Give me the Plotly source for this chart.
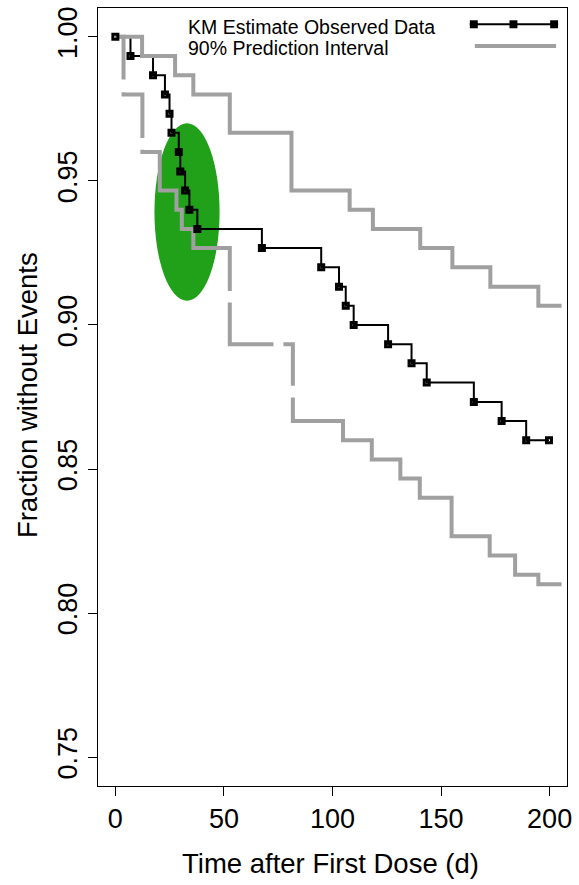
import math
import plotly.graph_objects as go

# ---- Kaplan-Meier estimate of the observed data ----
km_time = [0, 6.96, 17.34, 22.83, 24.94, 25.85, 29.2, 29.9, 32.12, 34.09, 37.75,
           67.48, 94.8, 103.0, 106.1, 109.75, 125.6, 136.4, 143.4, 165.1, 177.9,
           189.2, 199.7]
km_surv = [1.0, 0.9933, 0.9867, 0.98, 0.9733, 0.9667, 0.96, 0.9533, 0.9467, 0.94,
           0.9333, 0.9267, 0.92, 0.9133, 0.9067, 0.90, 0.8933, 0.8867, 0.88, 0.8733,
           0.8667, 0.86, 0.86]

# ---- 90% prediction interval (step functions) ----
upper_time = [0, 12.3, 27.5, 35.9, 52.7, 81.1, 107.9, 118.6, 140.4, 155.2, 172.7, 194.8]
upper_level = [1.0, 0.9933, 0.9867, 0.98, 0.9667, 0.9467, 0.94, 0.9333, 0.9267, 0.92,
               0.9133, 0.9067]
lower_time = [0, 3.76, 12.45, 20.45, 28.14, 30.6, 35.9, 52.7, 81.75, 104.85, 118.1,
              131.25, 140.2, 154.85, 172.4, 184.1, 194.8]
lower_level = [1.0, 0.98, 0.96, 0.9467, 0.94, 0.9333, 0.9267, 0.8933, 0.8667, 0.86,
               0.8533, 0.8467, 0.84, 0.8267, 0.82, 0.8133, 0.81]
band_end = 205.5

# breaks in the interval lines: (t_from, t_to, s_from, s_to)
upper_breaks = []
lower_breaks = [(3.3, 4.2, 0.9808, 0.9852),
                (12.0, 12.9, 0.9608, 0.9649),
                (52.2, 53.2, 0.9078, 0.9118),
                (72.8, 77.4, 0.889, 0.898),
                (81.3, 82.2, 0.8748, 0.8789)]

# ---- observed-data ellipse (centre and half widths) ----
ell_time, ell_surv = 33.0, 0.9392
ell_dt, ell_ds = 15.0, 0.0308

x_ticks = [0, 50, 100, 150, 200]
y_ticks = [0.75, 0.80, 0.85, 0.90, 0.95, 1.00]
y_labels = ["0.75", "0.80", "0.85", "0.90", "0.95", "1.00"]

GREY = "#A0A0A0"
GREEN = "#21A11A"
FONT = "Liberation Sans, Arial, sans-serif"

W, H = 579, 885
L, R, T, B = 98, 8, 7, 99
PW, PH = W - L - R, H - T - B


def px(xp):
    return (xp - L) / PW


def py(yp):
    return (H - B - yp) / PH


def step_path(times, levels, t_end):
    pts = [(times[0], levels[0])]
    for i in range(1, len(times)):
        pts.append((times[i], levels[i - 1]))
        pts.append((times[i], levels[i]))
    pts.append((t_end, levels[-1]))
    return pts


def close(p, q):
    return math.isclose(p[0], q[0], abs_tol=1e-9) and math.isclose(p[1], q[1], abs_tol=1e-9)


def broken_line(path, breaks):
    pieces, cur = [], []
    for (x0, y0), (x1, y1) in zip(path[:-1], path[1:]):
        removed = []
        for (ta, tb, sa, sb) in breaks:
            lo, hi, inside = 0.0, 1.0, True
            for p0, p1, a, b in ((x0, x1, ta, tb), (y0, y1, sa, sb)):
                d = p1 - p0
                if d == 0:
                    if not (a <= p0 <= b):
                        inside = False
                else:
                    s0, s1 = sorted(((a - p0) / d, (b - p0) / d))
                    lo, hi = max(lo, s0), min(hi, s1)
            if inside and lo < hi:
                removed.append((lo, hi))
        removed.sort()
        kept, s = [], 0.0
        for lo, hi in removed:
            if lo > s:
                kept.append((s, lo))
            s = max(s, hi)
        if s < 1.0:
            kept.append((s, 1.0))
        for a, b in kept:
            pa = (x0 + a * (x1 - x0), y0 + a * (y1 - y0))
            pb = (x0 + b * (x1 - x0), y0 + b * (y1 - y0))
            if cur and close(cur[-1], pa):
                cur.append(pb)
            else:
                if cur:
                    pieces.append(cur)
                cur = [pa, pb]
    if cur:
        pieces.append(cur)
    xs, ys = [], []
    for pc in pieces:
        xs += [p[0] for p in pc] + [None]
        ys += [p[1] for p in pc] + [None]
    return xs, ys


fig = go.Figure()

# KM step line
fig.add_trace(go.Scatter(x=km_time, y=km_surv, mode="lines", line_shape="hv",
                         line=dict(color="black", width=2), hoverinfo="skip"))

# prediction interval bounds
for times, levels, brk in ((upper_time, upper_level, upper_breaks),
                           (lower_time, lower_level, lower_breaks)):
    bx, by = broken_line(step_path(times, levels, band_end), brk)
    fig.add_trace(go.Scatter(x=bx, y=by, mode="lines", connectgaps=False,
                             line=dict(color=GREY, width=4), hoverinfo="skip"))

# KM event markers
fig.add_trace(go.Scatter(x=km_time, y=km_surv, mode="markers",
                         marker=dict(symbol="square-open", size=5, color="black",
                                     line=dict(color="black", width=3))))

shapes = [dict(type="circle", xref="x", yref="y", layer="below",
               x0=ell_time - ell_dt, x1=ell_time + ell_dt,
               y0=ell_surv - ell_ds, y1=ell_surv + ell_ds,
               fillcolor=GREEN, line=dict(width=0))]

# legend samples
shapes.append(dict(type="line", xref="paper", yref="paper",
                   x0=px(473), x1=px(562), y0=py(23.3), y1=py(23.3),
                   line=dict(color="black", width=2)))
for cx in (477, 517, 558):
    shapes.append(dict(type="rect", xref="paper", yref="paper",
                       x0=px(cx - 4), x1=px(cx + 4), y0=py(27.3), y1=py(19.3),
                       fillcolor="black", line=dict(width=0)))
shapes.append(dict(type="line", xref="paper", yref="paper",
                   x0=px(478), x1=px(560), y0=py(45), y1=py(45),
                   line=dict(color=GREY, width=4)))

annotations = [
    dict(text="KM Estimate Observed Data", xref="paper", yref="paper",
         x=px(187), y=py(26), xanchor="left", yanchor="middle", showarrow=False,
         font=dict(family=FONT, size=19.5, color="black")),
    dict(text="90% Prediction Interval", xref="paper", yref="paper",
         x=px(187), y=py(47), xanchor="left", yanchor="middle", showarrow=False,
         font=dict(family=FONT, size=19.5, color="black")),
    dict(text="Time after First Dose (d)", xref="paper", yref="paper",
         x=px(332), y=py(864), xanchor="center", yanchor="middle", showarrow=False,
         font=dict(family=FONT, size=27.5, color="black")),
    dict(text="Fraction without Events", xref="paper", yref="paper",
         x=px(27), y=py(395), xanchor="center", yanchor="middle", showarrow=False,
         textangle=-90, font=dict(family=FONT, size=27.5, color="black")),
]

axis_common = dict(showline=True, mirror=True, linecolor="black", linewidth=1,
                   ticks="outside", ticklen=9, tickwidth=1, tickcolor="black",
                   showgrid=False, zeroline=False,
                   tickfont=dict(family=FONT, size=27, color="black"))

fig.update_layout(
    width=W, height=H, margin=dict(l=L, r=R, t=T, b=B),
    paper_bgcolor="white", plot_bgcolor="white", showlegend=False,
    xaxis=dict(range=[-8, 208], tickvals=x_ticks, ticktext=[str(v) for v in x_ticks],
               **axis_common),
    yaxis=dict(range=[0.74, 1.01], tickvals=y_ticks, ticktext=y_labels,
               tickangle=-90, **axis_common),
    shapes=shapes, annotations=annotations,
)

fig.write_html("out.html")
